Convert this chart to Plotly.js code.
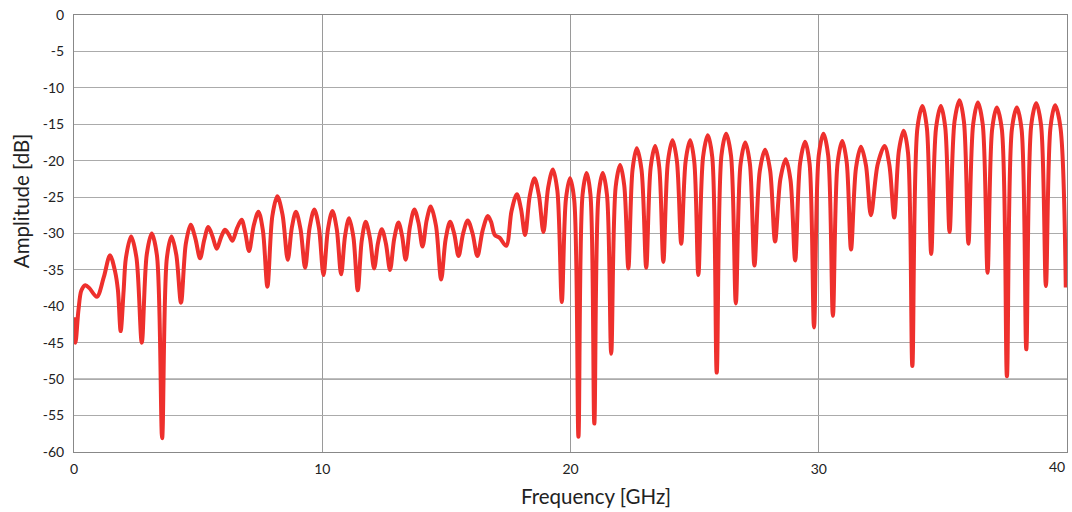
<!DOCTYPE html>
<html>
<head>
<meta charset="utf-8">
<script src="https://cdn.plot.ly/plotly-3.0.1.min.js"></script>
<style>html,body{margin:0;padding:0;background:#fff;}#chart{width:1072px;height:512px;}</style>
</head>
<body>
<div id="chart"></div>
<script>
// Frequency [GHz] (peaks, dips and points on the flanks)
const freqGHz = [
  0, 0.06, 0.18, 0.30, 0.46, 0.62, 0.92, 1.20, 1.45, 1.66, 1.77, 1.88, 2.00, 2.09, 2.30,
  2.515, 2.73, 2.93, 3.13, 3.34, 3.55, 3.74, 3.93, 4.12, 4.31, 4.505, 4.70, 4.89, 5.08,
  5.245, 5.41, 5.58, 5.75, 5.915, 6.08, 6.23, 6.38, 6.565, 6.75, 6.90, 7.05, 7.24, 7.43,
  7.61, 7.79, 7.99, 8.19, 8.40, 8.61, 8.775, 8.94, 9.125, 9.31, 9.495, 9.68, 9.865, 10.05,
  10.23, 10.41, 10.585, 10.76, 10.92, 11.08, 11.255, 11.43, 11.59, 11.75, 11.92, 12.09,
  12.245, 12.40, 12.565, 12.73, 12.90, 13.07, 13.215, 13.36, 13.535, 13.71, 13.875, 14.04,
  14.205, 14.37, 14.58, 14.79, 14.97, 15.15, 15.32, 15.49, 15.675, 15.86, 16.055, 16.25,
  16.46, 16.67, 16.80, 16.95, 17.15, 17.41,
  17.625, 17.84, 18.005, 18.17, 18.36, 18.55, 18.73, 18.91, 19.10, 19.29, 19.47, 19.65,
  19.815, 19.98, 20.15, 20.32, 20.485, 20.65, 20.805, 20.96, 21.13, 21.30, 21.47, 21.64,
  21.82, 22.00, 22.165, 22.33, 22.50, 22.67, 22.86, 23.05, 23.23, 23.41, 23.575, 23.74,
  23.925, 24.11, 24.285, 24.46, 24.64, 24.82, 24.985, 25.15, 25.34, 25.53, 25.71, 25.89,
  26.08, 26.27, 26.465, 26.66, 26.85, 27.04, 27.225, 27.41, 27.625, 27.84, 28.04, 28.24,
  28.455, 28.67, 28.86, 29.05, 29.25, 29.45, 29.63, 29.81, 30.00, 30.19, 30.38, 30.57,
  30.76, 30.95, 31.125, 31.30, 31.50, 31.70, 31.90, 32.10, 32.375, 32.65, 32.845, 33.04,
  33.23, 33.42, 33.595, 33.77, 33.975, 34.18, 34.355, 34.53, 34.725, 34.92, 35.095, 35.27,
  35.47, 35.67, 35.85, 36.03, 36.22, 36.41, 36.605, 36.80, 36.985, 37.17, 37.375, 37.58,
  37.78, 37.98, 38.17, 38.36, 38.56, 38.76, 38.955, 39.15, 39.335, 39.52, 39.735, 39.95
];
// Amplitude [dB]
const amplitudeDb = [
  -41.5, -45.0, -40.5, -37.8, -37.1, -37.5, -38.7, -36.0, -33.0, -35.3, -37.8, -43.4, -37.8, -33.4, -30.4,
  -33.3, -45.0, -32.9, -30.0, -33.0, -58.1, -33.4, -30.4, -32.9, -39.5, -31.4, -28.8, -30.7, -33.4,
  -30.9, -29.1, -30.4, -32.1, -30.6, -29.5, -30.1, -31.0, -29.3, -28.1, -29.9, -32.4, -28.9, -27.0,
  -29.6, -37.3, -27.6, -24.9, -27.4, -33.6, -29.2, -27.0, -29.4, -34.7, -29.1, -26.7, -29.2, -35.7,
  -29.4, -26.9, -29.4, -35.6, -30.3, -27.9, -30.5, -37.8, -31.0, -28.4, -30.6, -34.8,
  -31.3, -29.4, -31.4, -35.0, -30.7, -28.5, -30.3, -33.6, -29.0, -26.7, -28.5, -31.8,
  -28.2, -26.3, -28.9, -36.3, -30.8, -28.4, -30.1, -33.1, -30.0, -28.2, -30.0, -33.1,
  -29.6, -27.6, -28.4, -30.2, -30.6, -31.7,
  -26.9, -24.6, -26.6, -30.2, -24.8, -22.4, -24.8, -29.8, -23.7, -21.2, -24.1, -39.4,
  -25.3, -22.4, -25.4, -57.9, -24.7, -21.7, -24.7, -56.1, -24.7, -21.7, -24.7, -46.5,
  -23.6, -20.6, -23.4, -34.8, -21.2, -18.3, -21.2, -34.7, -20.9, -18.0, -20.9, -33.9,
  -20.1, -17.2, -20.0, -31.4, -20.0, -17.2, -20.1, -35.7, -19.5, -16.5, -19.5, -49.1,
  -19.3, -16.3, -19.3, -39.6, -20.5, -17.5, -20.4, -34.4, -21.4, -18.5, -21.3, -31.1,
  -22.5, -19.8, -22.6, -33.7, -20.3, -17.4, -20.4, -42.9, -19.3, -16.3, -19.3, -41.3,
  -20.3, -17.3, -20.2, -32.2, -21.0, -18.1, -20.6, -27.5, -20.5, -18.0, -20.6, -27.8,
  -18.6, -15.9, -18.9, -48.2, -15.5, -12.5, -15.5, -32.8, -15.5, -12.5, -15.4, -29.8,
  -14.6, -11.7, -14.7, -31.4, -15.0, -12.0, -15.0, -35.4, -15.7, -12.7, -15.7, -49.6,
  -15.7, -12.7, -15.7, -45.9, -15.1, -12.1, -15.1, -37.2, -15.4, -12.4, -15.4, -37.4
];
const xTicks = [0, 10, 20, 30, 40];
const xTickText = ['0', '10', '20', '30', ''];
const yTicks = [0, -5, -10, -15, -20, -25, -30, -35, -40, -45, -50, -55, -60];

const font = 'Lato, "Open Sans", sans-serif';

const trace = {
  x: freqGHz, y: amplitudeDb, type: 'scatter', mode: 'lines',
  line: {color: '#EE302D', width: 4, shape: 'spline', smoothing: 0.9},
  hoverinfo: 'skip'
};

const layout = {
  width: 1072, height: 512,
  margin: {l: 74, r: 5, t: 15, b: 60},
  paper_bgcolor: '#fff', plot_bgcolor: '#fff',
  showlegend: false,
  font: {family: font, size: 14, color: '#222'},
  xaxis: {
    range: [0, 40], tickvals: xTicks, ticktext: xTickText,
    showgrid: true, gridcolor: '#9a9a9a', gridwidth: 1,
    zeroline: false, showline: true, linecolor: '#888', linewidth: 1, mirror: true,
    ticks: '', ticklabelstandoff: 4,
    tickfont: {family: font, size: 14, color: '#222'}
  },
  yaxis: {
    range: [-60, 0], tickvals: yTicks, ticktext: yTicks.map(String),
    showgrid: true, gridcolor: '#ababab', gridwidth: 1,
    zeroline: false, showline: true, linecolor: '#888', linewidth: 1, mirror: true,
    ticks: '', ticklabelstandoff: 6,
    tickfont: {family: font, size: 14, color: '#222'}
  },
  shapes: [
    {type: 'line', xref: 'paper', x0: 0, x1: 1, yref: 'y', y0: -50, y1: -50,
     line: {color: '#808080', width: 1.5}, layer: 'below'}
  ],
  annotations: [
    {text: String(xTicks[xTicks.length - 1]), xref: 'x', yref: 'paper', x: 40, y: 0,
     xanchor: 'right', yanchor: 'top', yshift: -4, showarrow: false,
     font: {family: font, size: 14, color: '#222'}},
    {text: 'Frequency [GHz]', xref: 'paper', yref: 'paper', x: 0.526, y: 0,
     xanchor: 'center', yanchor: 'middle', yshift: -44, showarrow: false,
     font: {family: font, size: 20.5, color: '#222'}},
    {text: 'Amplitude [dB]', xref: 'paper', yref: 'paper', x: 0, y: 0.574,
     xanchor: 'center', yanchor: 'middle', xshift: -53, textangle: -90, showarrow: false,
     font: {family: font, size: 20.5, color: '#222'}}
  ]
};

Plotly.newPlot('chart', [trace], layout, {staticPlot: true, displayModeBar: false});
</script>
</body>
</html>
